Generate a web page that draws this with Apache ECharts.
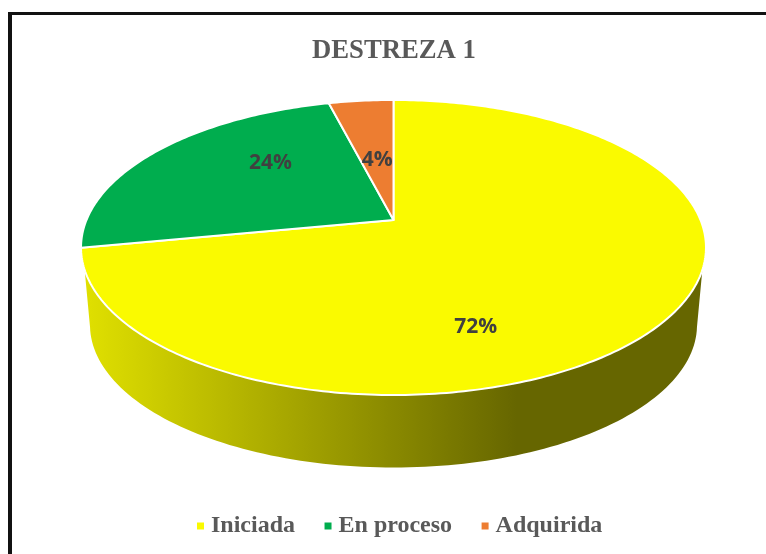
<!DOCTYPE html>
<html>
<head>
<meta charset="utf-8">
<style>
  html, body { margin: 0; padding: 0; background: #fff; }
  #chart { width: 766px; height: 554px; }
</style>
<script src="https://cdn.jsdelivr.net/npm/echarts@6/dist/echarts.min.js"></script>
</head>
<body>
<div id="chart"></div>
<script>
const categories = ['Iniciada', 'En proceso', 'Adquirida']
const percents = [72, 24, 4]
const colors = ['#fafa00', '#00ad4e', '#ed7d31']

// tilted disc: apex of the slices, projected radius and perspective factor
const CX = 393.5
const CY = 220
const RX = 307
const RY = 142.4
const K = 0.1864
// outline of the top face and of the bottom edge of the wall
const TOP = { cy: 247.5, rx: 312.5, ry: 147.5 }
const BOTTOM = { cy: 325, rx: 303.5, ry: 142.5 }
// label placement, radius fraction and nudge in px
const labelRadius = 0.55
const labelOffset = [[-57, 54], [12, -17], [3, 11]]

const total = percents.reduce((acc, cur) => acc + cur, 0)

// angle is clockwise from 12 o'clock, r is 0..1 on the disc
function project(angle, r) {
  const u = r * Math.sin(angle)
  const v = r * Math.cos(angle)
  const w = 1 + K * v
  return [CX + (RX * u) / w, CY - (RY * v) / w]
}

function ellipseArc(e, from, to) {
  const pts = []
  const steps = 120
  for (let i = 0; i <= steps; i++) {
    const a = from + ((to - from) * i) / steps
    pts.push([CX + e.rx * Math.cos(a), e.cy + e.ry * Math.sin(a)])
  }
  return pts
}

function wallPoints() {
  // both rims run between their tangent points, left to right along the front
  const topStart = Math.asin(22.5 / TOP.ry)
  const bottomStart = Math.asin(2 / BOTTOM.ry)
  const lower = ellipseArc(BOTTOM, Math.PI - bottomStart, bottomStart)
  const upper = ellipseArc(TOP, topStart, Math.PI - topStart)
  return lower.concat(upper)
}

function renderSlice(index) {
  return function () {
    const before = percents.slice(0, index).reduce((acc, cur) => acc + cur, 0)
    const start = (before / total) * Math.PI * 2
    const end = ((before + percents[index]) / total) * Math.PI * 2
    const pts = [[CX, CY]]
    const steps = Math.max(8, Math.round(percents[index] * 4))
    for (let i = 0; i <= steps; i++) {
      pts.push(project(start + ((end - start) * i) / steps, 1))
    }
    const children = []
    if (index === 0) {
      children.push({
        type: 'polygon',
        shape: { points: wallPoints() },
        style: {
          fill: new echarts.graphic.LinearGradient(0, 0, 1, 0, [
            { offset: 0, color: '#e0e000' },
            { offset: 0.7, color: '#666600' },
            { offset: 1, color: '#666600' },
          ]),
        },
      })
    }
    children.push({
      type: 'polygon',
      shape: { points: pts },
      style: { fill: colors[index], stroke: '#fff', lineWidth: 2, lineJoin: 'round' },
    })
    const mid = project((start + end) / 2, labelRadius)
    children.push({
      type: 'text',
      z2: 10,
      style: {
        x: mid[0] + labelOffset[index][0],
        y: mid[1] + labelOffset[index][1],
        text: percents[index] + '%',
        align: 'center',
        verticalAlign: 'middle',
        fill: '#404040',
        font: 'bold 21px "Open Sans"',
      },
    })
    return { type: 'group', children }
  }
}

const myChart = echarts.init(document.getElementById('chart'))
myChart.setOption({
  animation: false,
  backgroundColor: '#fff',
  title: {
    text: 'DESTREZA 1',
    left: 312,
    top: 38,
    padding: 0,
    textStyle: {
      fontFamily: 'Liberation Serif',
      fontWeight: 'bold',
      fontSize: 26.7,
      color: '#595959',
    },
  },
  legend: {
    data: categories,
    left: 197,
    top: 514,
    padding: 0,
    icon: 'rect',
    itemWidth: 7,
    itemHeight: 7,
    itemGap: 29.5,
    textStyle: {
      fontFamily: 'Liberation Serif',
      fontWeight: 'bold',
      fontSize: 24,
      color: '#595959',
      padding: [0, 0, 0, 2],
    },
  },
  graphic: [
    { type: 'rect', shape: { x: 8, y: 12, width: 758, height: 3 }, style: { fill: '#111' } },
    { type: 'rect', shape: { x: 8, y: 12, width: 4, height: 542 }, style: { fill: '#111' } },
  ],
  series: categories.map((name, index) => ({
    type: 'custom',
    name,
    coordinateSystem: 'none',
    itemStyle: { color: colors[index] },
    data: [percents[index]],
    renderItem: renderSlice(index),
  })),
})
</script>
</body>
</html>
